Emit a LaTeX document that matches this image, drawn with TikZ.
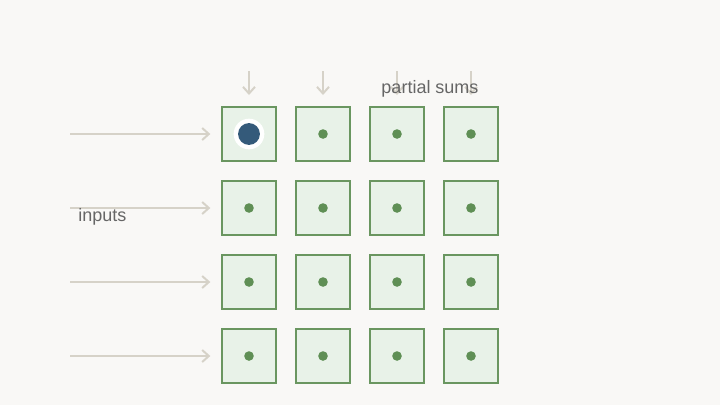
\documentclass[tikz,border=0pt]{standalone}
\usepackage{fontspec}
\setmainfont{Liberation Sans}
\usetikzlibrary{arrows.meta}
\definecolor{bg}{HTML}{F9F8F6}
\definecolor{cellfill}{HTML}{E8F2E8}
\definecolor{celldraw}{HTML}{6A9660}
\definecolor{dotc}{HTML}{5F8F55}
\definecolor{navy}{HTML}{345A7A}
\definecolor{arr}{HTML}{D6D2C8}
\definecolor{txt}{HTML}{666666}
\begin{document}
\begin{tikzpicture}[x=0.75pt,y=-0.75pt,
  cell/.style={draw=celldraw,fill=cellfill,line width=1.5pt,minimum size=41pt,inner sep=0pt,outer sep=0pt},
  flow/.style={draw=arr,line width=1.5pt,-{Straight Barb[length=5pt,width=9pt]}},
  lbl/.style={text=txt,font=\fontsize{13.5pt}{16pt}\selectfont,inner sep=0pt}]
\fill[bg] (0,0) rectangle (720,405);
\useasboundingbox (0,0) rectangle (720,405);
\foreach \r in {0,1,2,3}{
  \foreach \c in {0,1,2,3}{
    \node[cell] (c\r\c) at ({249+74*\c},{134+74*\r}) {};
  }
  \coordinate (in\r) at (70,{134+74*\r});
  \draw[flow,shorten >=8.5pt] (in\r) -- (c\r0.west);
}
\foreach \c in {0,1,2,3}{
  \coordinate (ps\c) at ({249+74*\c},71);
  \coordinate (pe\c) at ({249+74*\c},95);
  \draw[flow] (ps\c) -- (pe\c);
}
\foreach \r in {0,1,2,3}{
  \foreach \c in {0,1,2,3}{
    \fill[dotc] (c\r\c.center) circle[radius=3.6pt];
  }
}
\fill[white] (c00.center) circle[radius=11.5pt];
\fill[navy] (c00.center) circle[radius=8.2pt];
\node[lbl] (psl) at (430,88.5) {partial sums};
\node[lbl,anchor=west] (inl) at (78,216.5) {inputs};
\end{tikzpicture}
\end{document}
